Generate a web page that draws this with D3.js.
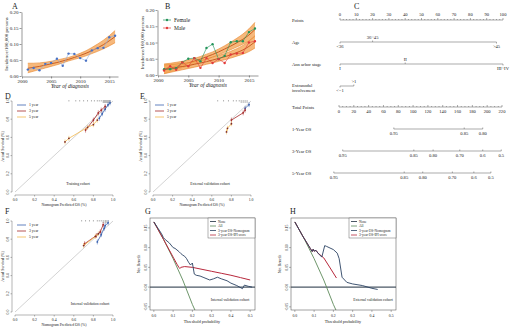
<!DOCTYPE html>
<html>
<head>
<meta charset="utf-8">
<script src="https://cdn.jsdelivr.net/npm/d3@7"></script>
<style>
  body { margin: 0; background: #fff; }
  text { font-family: "Liberation Serif", "Times New Roman", serif; fill: #222; }
</style>
</head>
<body>
<svg width="520" height="333"></svg>
<script>
// ---- data: incidence (A, B)
var years = [2001,2002,2003,2004,2005,2006,2007,2008,2009,2010,2011,2012,2013,2014,2015,2016];
var incTotal = [0.020,0.025,0.018,0.038,0.041,0.054,0.032,0.070,0.069,0.056,0.048,0.080,0.087,0.088,0.121,0.126];
var fitTotal = [0.024,0.027,0.030,0.034,0.038,0.042,0.047,0.052,0.058,0.064,0.071,0.079,0.088,0.098,0.110,0.123];
var loTotal  = [0.010,0.015,0.020,0.025,0.030,0.035,0.041,0.047,0.052,0.057,0.063,0.070,0.077,0.085,0.094,0.104];
var hiTotal  = [0.040,0.040,0.041,0.043,0.046,0.050,0.054,0.058,0.064,0.071,0.079,0.089,0.100,0.112,0.126,0.142];

var incFemale = [0.018,0.018,0.021,0.039,0.050,0.052,0.042,0.083,0.095,0.049,0.059,0.101,0.104,0.104,0.132,0.143];
var fitFemale = [0.019,0.023,0.027,0.032,0.037,0.043,0.049,0.056,0.063,0.071,0.080,0.089,0.099,0.110,0.123,0.140];
var loFemale  = [0.005,0.010,0.016,0.022,0.028,0.034,0.041,0.048,0.055,0.062,0.070,0.078,0.086,0.095,0.105,0.118];
var hiFemale  = [0.034,0.036,0.039,0.042,0.046,0.051,0.057,0.064,0.071,0.080,0.090,0.101,0.113,0.126,0.142,0.162];

var incMale = [0.014,0.027,0.016,0.039,0.027,0.052,0.022,0.052,0.037,0.049,0.037,0.063,0.066,0.068,0.100,0.104];
var fitMale = [0.017,0.020,0.023,0.026,0.029,0.033,0.037,0.041,0.046,0.051,0.056,0.062,0.069,0.077,0.088,0.102];
var loMale  = [0.004,0.008,0.012,0.016,0.020,0.024,0.028,0.033,0.037,0.042,0.047,0.052,0.058,0.064,0.072,0.083];
var hiMale  = [0.031,0.032,0.034,0.036,0.038,0.041,0.045,0.049,0.055,0.060,0.066,0.073,0.081,0.091,0.104,0.121];

// ---- data: nomogram (C)
var ageLevels = ["<36", "36~45", ">45"], agePts = [0, 20, 96];
var stageLevels = ["I", "II", "III~IV"], stagePts = [0, 40, 100];
var extraLevels = ["<=1", ">1"], extraPts = [0, 8.5];
var os1Labels = ["0.95", "0.85", "0.80"], os1Total = [74, 169, 194];
var os3Labels = ["0.95", "0.85", "0.80", "0.70", "0.6", "0.5"], os3Total = [5, 101, 127, 163, 194, 219];
var os5Labels = ["0.95", "0.85", "0.80", "0.70", "0.6", "0.5"], os5Total = [-7, 88, 113, 153, 182, 205];

// ---- data: calibration (D, E, F)
var dPred1 = [0.86,0.89,0.92,0.95,0.97], dObs1 = [0.81,0.86,0.91,0.96,0.98];
var dPred3 = [0.72,0.80,0.85,0.88,0.92], dObs3 = [0.68,0.79,0.87,0.90,0.94];
var dPred5 = [0.51,0.55,0.74,0.80,0.84], dObs5 = [0.55,0.59,0.71,0.74,0.79];
var dRug = [0.55,0.62,0.66,0.70,0.74,0.78,0.81,0.84,0.86,0.88,0.90,0.91,0.92,0.93,0.94,0.95,0.96,0.97];

var ePred1 = [0.94,0.98], eObs1 = [0.92,0.96];
var ePred3 = [0.80,0.92,0.94], eObs3 = [0.79,0.87,0.90];
var ePred5 = [0.75,0.76,0.80], eObs5 = [0.66,0.70,0.75];
var eRug = [0.66,0.72,0.77,0.82,0.85,0.88,0.90,0.92,0.94,0.96];

var fPred1 = [0.84,0.88,0.91,0.92,0.95], fObs1 = [0.77,0.85,0.92,0.95,0.98];
var fPred3 = [0.71,0.83,0.87,0.90], fObs3 = [0.75,0.84,0.88,0.96];
var fPred5 = [0.70,0.82,0.85], fObs5 = [0.73,0.83,0.86];
var fRug = [0.68,0.72,0.76,0.80,0.84,0.86,0.88,0.90,0.92,0.93,0.95];

// ---- data: decision curves (G, H)
var gAllX = [0,0.05,0.10,0.15,0.20,0.215], gAllY = [0.165,0.121,0.072,0.018,-0.044,-0.060];
var gIpiX = [0,0.05,0.10,0.12,0.13,0.135,0.14,0.16,0.20,0.25,0.30,0.35,0.40,0.45,0.50];
var gIpiY = [0.165,0.121,0.076,0.058,0.050,0.047,0.050,0.052,0.050,0.045,0.040,0.035,0.030,0.024,0.018];
var gNomX = [0,0.02,0.04,0.05,0.06,0.08,0.10,0.11,0.12,0.13,0.14,0.15,0.16,0.17,0.18,0.19,0.20,0.21,0.22,0.24,0.26,0.29,0.31,0.33,0.35,0.38,0.40,0.43,0.46,0.47,0.49,0.51];
var gNomY = [0.165,0.150,0.135,0.125,0.120,0.112,0.100,0.098,0.094,0.090,0.085,0.081,0.078,0.072,0.063,0.056,0.061,0.033,0.030,0.028,0.024,0.018,0.021,0.025,0.021,0.016,0.010,0.004,-0.004,0.005,0.002,0.000];

var hAllX = [0,0.05,0.10,0.15,0.20,0.215], hAllY = [0.165,0.121,0.072,0.018,-0.044,-0.060];
var hIpiX = [0,0.04,0.08,0.09,0.095,0.10,0.11,0.12,0.15,0.18,0.216];
var hIpiY = [0.165,0.130,0.098,0.090,0.096,0.091,0.093,0.086,0.074,0.051,0.023];
var hNomX = [0,0.04,0.08,0.09,0.095,0.10,0.11,0.12,0.14,0.155,0.165,0.20,0.22,0.23,0.245,0.27,0.30,0.35,0.40,0.43];
var hNomY = [0.165,0.130,0.098,0.090,0.096,0.091,0.093,0.086,0.076,0.105,0.103,0.095,0.086,0.072,0.025,0.012,0.008,0.004,-0.003,-0.006];

var svg = d3.select("svg");

function txt(x, y, s, size, anchor) {
    return svg.append("text").attr("x", x).attr("y", y).attr("font-size", size)
        .attr("text-anchor", anchor || "start").text(s);
}
function vtxt(x, y, s, size) {
    return svg.append("text").attr("transform", "translate(" + x + "," + y + ") rotate(-90)")
        .attr("font-size", size).attr("text-anchor", "middle").text(s);
}

// panel letters
txt(12, 9, "A", 8); txt(165, 9, "B", 8); txt(354, 9, "C", 8);
txt(5, 99, "D", 8); txt(140, 99, "E", 8);
txt(5, 214, "F", 8); txt(145, 214, "G", 8); txt(290, 214, "H", 8);

// ---------- A / B incidence panels
function incPanel(cfg) {
    var x = d3.scaleLinear().domain([2000, 2016.5]).range([cfg.left, cfg.right]);
    var y = d3.scaleLinear().domain([0, 0.2]).range([cfg.bottom, cfg.top]);
    var g = svg.append("g");

    cfg.fits.forEach(function(f) {
        var area = d3.area().x(function(d, i) { return x(years[i]); })
            .y0(function(d, i) { return y(f.lo[i]); })
            .y1(function(d) { return y(d); })
            .curve(d3.curveMonotoneX);
        g.append("path").datum(f.hi).attr("d", area).attr("fill", "#f4a65a").attr("fill-opacity", 0.8);
        [f.lo, f.hi].forEach(function(b) {
            g.append("path").datum(b)
                .attr("d", d3.line().x(function(d, i) { return x(years[i]); }).y(function(d) { return y(d); }).curve(d3.curveMonotoneX))
                .attr("fill", "none").attr("stroke", "#e8862e").attr("stroke-width", 0.6);
        });
        g.append("path").datum(f.fit)
            .attr("d", d3.line().x(function(d, i) { return x(years[i]); }).y(function(d) { return y(d); }).curve(d3.curveMonotoneX))
            .attr("fill", "none").attr("stroke", "#c45418").attr("stroke-width", 0.9);
    });

    cfg.series.forEach(function(s) {
        g.append("path").datum(s.values)
            .attr("d", d3.line().x(function(d, i) { return x(years[i]); }).y(function(d) { return y(d); }))
            .attr("fill", "none").attr("stroke", s.line).attr("stroke-width", 0.6);
        g.selectAll(null).data(s.values).enter().append("circle")
            .attr("cx", function(d, i) { return x(years[i]); })
            .attr("cy", function(d) { return y(d); })
            .attr("r", 1.2).attr("fill", s.color);
    });

    var ya = g.append("g").attr("transform", "translate(" + (cfg.left - 0.5) + ",0)")
        .call(d3.axisLeft(y).tickValues([0, 0.05, 0.1, 0.15, 0.2]).tickFormat(d3.format(".2f"))
            .tickSize(2).tickSizeOuter(0).tickPadding(1));
    var xa = g.append("g").attr("transform", "translate(0," + (cfg.bottom + 0.5) + ")")
        .call(d3.axisBottom(x).tickValues([2000, 2005, 2010, 2015]).tickFormat(d3.format("d"))
            .tickSize(2).tickSizeOuter(0).tickPadding(1));
    [ya, xa].forEach(function(a) {
        a.selectAll("path,line").attr("stroke", "#333").attr("stroke-width", 0.5);
        a.selectAll("text").attr("font-size", 5).attr("font-family", null).attr("fill", "#222");
    });
    vtxt(cfg.left - 14, (cfg.top + cfg.bottom) / 2, "Incidence/100,000 persons", 5);
    txt((cfg.left + cfg.right) / 2, cfg.bottom + 12, "Year of diagnosis", 5.5, "middle").attr("font-style", "italic");

    if (cfg.legend) {
        cfg.series.forEach(function(s, i) {
            var ly = cfg.legend.y + i * 8;
            g.append("line").attr("x1", cfg.legend.x).attr("x2", cfg.legend.x + 8)
                .attr("y1", ly).attr("y2", ly).attr("stroke", s.color).attr("stroke-width", 0.7);
            g.append("circle").attr("cx", cfg.legend.x + 4).attr("cy", ly).attr("r", 1.2).attr("fill", s.color);
            txt(cfg.legend.x + 11, ly + 1.8, s.name, 5.5);
        });
    }
}

incPanel({left: 22, right: 118, top: 12, bottom: 76,
    fits: [{fit: fitTotal, lo: loTotal, hi: hiTotal}],
    series: [{values: incTotal, color: "#4a72c4", line: "#8eaee0"}]});

incPanel({left: 158, right: 258, top: 10, bottom: 75,
    fits: [{fit: fitFemale, lo: loFemale, hi: hiFemale}, {fit: fitMale, lo: loMale, hi: hiMale}],
    series: [{name: "Female", values: incFemale, color: "#23945a", line: "#23945a"},
             {name: "Male", values: incMale, color: "#e23b3b", line: "#e23b3b"}],
    legend: {x: 163, y: 20}});

// ---------- C nomogram
var ptsX = d3.scaleLinear().domain([0, 100]).range([340, 503]);
var totX = d3.scaleLinear().domain([0, 220]).range([339, 502]);
var nomo = svg.append("g").attr("stroke", "#555").attr("stroke-width", 0.5);
var fsN = 4.6;

function rowLabel(y, s) { txt(292, y, s, fsN); }

// Points
rowLabel(22, "Points");
nomo.append("line").attr("x1", ptsX(0)).attr("x2", ptsX(100)).attr("y1", 20).attr("y2", 20);
nomo.selectAll(null).data(d3.range(0, 101, 2)).enter().append("line")
    .attr("x1", function(d) { return ptsX(d); }).attr("x2", function(d) { return ptsX(d); })
    .attr("y1", 20).attr("y2", function(d) { return d % 10 === 0 ? 18 : 19; });
d3.range(0, 101, 10).forEach(function(d) { txt(ptsX(d), 16, d, fsN, "middle"); });

function catRow(y, levels, pts) {
    nomo.append("line").attr("x1", ptsX(d3.min(pts))).attr("x2", ptsX(d3.max(pts))).attr("y1", y).attr("y2", y);
    levels.forEach(function(l, i) {
        var up = i % 2 === 1;
        nomo.append("line").attr("x1", ptsX(pts[i])).attr("x2", ptsX(pts[i]))
            .attr("y1", y).attr("y2", up ? y - 1.5 : y + 1.5);
        txt(ptsX(pts[i]), up ? y - 3 : y + 5.5, l, fsN, "middle");
    });
}
rowLabel(44, "Age");
catRow(42, ageLevels, agePts);
rowLabel(66, "Ann arbor stage");
catRow(64, stageLevels, stagePts);
rowLabel(87, "Extranodal");
rowLabel(92, "involvement");
catRow(86, extraLevels, extraPts);

// Total points
rowLabel(109, "Total Points");
nomo.append("line").attr("x1", totX(0)).attr("x2", totX(220)).attr("y1", 107).attr("y2", 107);
nomo.selectAll(null).data(d3.range(0, 221, 5)).enter().append("line")
    .attr("x1", function(d) { return totX(d); }).attr("x2", function(d) { return totX(d); })
    .attr("y1", 107).attr("y2", function(d) { return d % 20 === 0 ? 105 : 106; });
d3.range(0, 221, 20).forEach(function(d) { txt(totX(d), 113, d, fsN, "middle"); });

function osRow(y, name, labels, tot) {
    rowLabel(y + 2, name);
    nomo.append("line").attr("x1", totX(d3.min(tot))).attr("x2", totX(d3.max(tot))).attr("y1", y).attr("y2", y);
    labels.forEach(function(l, i) {
        nomo.append("line").attr("x1", totX(tot[i])).attr("x2", totX(tot[i])).attr("y1", y).attr("y2", y - 1.5);
        txt(totX(tot[i]), y + 5.5, l, fsN, "middle");
    });
}
osRow(129, "1-Year OS", os1Labels, os1Total);
osRow(151, "3-Year OS", os3Labels, os3Total);
osRow(173, "5-Year OS", os5Labels, os5Total);

// ---------- D / E / F calibration panels
var calColors = ["#3a62b0", "#a52a2a", "#f2b84b"];
var calNames = ["1 year", "3 year", "5 year"];

function calPanel(cfg) {
    var x = d3.scaleLinear().domain([0, 1]).range([cfg.x0, cfg.x0 + 98]);
    var y = d3.scaleLinear().domain([0, 1]).range([cfg.y0, cfg.y0 - 91]);
    var g = svg.append("g");
    var ticks = [0, 0.2, 0.4, 0.6, 0.8, 1.0];

    // diagonal
    g.append("line").attr("x1", x(0)).attr("y1", y(0)).attr("x2", x(1)).attr("y2", y(1))
        .attr("stroke", "#c8c8c8").attr("stroke-width", 0.8);

    // axes
    var ax = cfg.x0 - 3, ay = cfg.y0 + 3;
    g.append("line").attr("x1", ax).attr("x2", ax).attr("y1", y(0)).attr("y2", y(1)).attr("stroke", "#444").attr("stroke-width", 0.4);
    g.append("line").attr("x1", x(0)).attr("x2", x(1)).attr("y1", ay).attr("y2", ay).attr("stroke", "#444").attr("stroke-width", 0.4);
    ticks.forEach(function(t) {
        g.append("line").attr("x1", ax).attr("x2", ax - 1.5).attr("y1", y(t)).attr("y2", y(t)).attr("stroke", "#444").attr("stroke-width", 0.4);
        g.append("line").attr("x1", x(t)).attr("x2", x(t)).attr("y1", ay).attr("y2", ay + 1.5).attr("stroke", "#444").attr("stroke-width", 0.4);
        vtxt(ax - 3, y(t), t.toFixed(1), 3.8);
        txt(x(t), ay + 5.5, t.toFixed(1), 3.8, "middle");
    });
    vtxt(ax - 8, y(0.5), "Actual Survival (%)", 3.8);
    txt(x(0.5), ay + 11, "Nomogram Predicted OS (%)", 3.8, "middle");

    // rug of predicted values
    g.selectAll(null).data(cfg.rug).enter().append("line")
        .attr("x1", function(d) { return x(d); }).attr("x2", function(d) { return x(d); })
        .attr("y1", y(1) - 1).attr("y2", function(d, i) { return y(1) + (d > 0.88 ? 2 : 0.5); })
        .attr("stroke", "#666").attr("stroke-width", 0.5);

    // curves
    cfg.series.forEach(function(s, k) {
        var pts = s.pred.map(function(p, i) { return [p, s.obs[i]]; });
        g.append("path").datum(pts)
            .attr("d", d3.line().x(function(d) { return x(d[0]); }).y(function(d) { return y(d[1]); }))
            .attr("fill", "none").attr("stroke", calColors[k]).attr("stroke-width", 0.8);
        g.selectAll(null).data(pts).enter().append("line")
            .attr("x1", function(d) { return x(d[0]); }).attr("x2", function(d) { return x(d[0]); })
            .attr("y1", function(d) { return y(d[1]) - 2.5; }).attr("y2", function(d) { return y(d[1]) + 2.5; })
            .attr("stroke", calColors[k]).attr("stroke-width", 0.5);
        g.selectAll(null).data(pts).enter().append("circle")
            .attr("cx", function(d) { return x(d[0]); }).attr("cy", function(d) { return y(d[1]); })
            .attr("r", 0.9).attr("fill", k === 2 ? "#7a2a2a" : calColors[k]);
    });

    // legend
    calNames.forEach(function(n, i) {
        var ly = cfg.y0 - 87 + i * 6;
        g.append("line").attr("x1", cfg.x0 + 2).attr("x2", cfg.x0 + 11).attr("y1", ly).attr("y2", ly)
            .attr("stroke", calColors[i]).attr("stroke-width", 0.8);
        txt(cfg.x0 + 14, ly + 1.3, n, 3.8);
    });
    txt(cfg.textX, cfg.y0 - 7, cfg.cohort, 3.8, "middle");
}

calPanel({x0: 15, y0: 192, rug: dRug, cohort: "Training cohort", textX: 78,
    series: [{pred: dPred1, obs: dObs1}, {pred: dPred3, obs: dObs3}, {pred: dPred5, obs: dObs5}]});
calPanel({x0: 153, y0: 192, rug: eRug, cohort: "External validation cohort", textX: 210,
    series: [{pred: ePred1, obs: eObs1}, {pred: ePred3, obs: eObs3}, {pred: ePred5, obs: eObs5}]});
calPanel({x0: 15, y0: 312, rug: fRug, cohort: "Internal validation cohort", textX: 90,
    series: [{pred: fPred1, obs: fObs1}, {pred: fPred3, obs: fObs3}, {pred: fPred5, obs: fObs5}]});

// ---------- G / H decision curves
var dcaNames = ["None", "All", "3-year OS-Nomogram", "3-year OS-IPI score"];
var dcaColors = ["#1e2e3e", "#5e8a5a", "#2a4262", "#b8283c"];

function dcaPanel(cfg) {
    var x = d3.scaleLinear().domain([-0.02, 0.525]).range([cfg.left, cfg.left + 105]);
    var y = d3.scaleLinear().domain([-0.058, 0.175]).range([310, 218]);
    var id = "clip" + cfg.left;
    svg.append("clipPath").attr("id", id).append("rect")
        .attr("x", cfg.left).attr("y", 218).attr("width", 105).attr("height", 92);
    var g = svg.append("g");
    var inner = g.append("g").attr("clip-path", "url(#" + id + ")");

    var line = d3.line().x(function(d) { return x(d[0]); }).y(function(d) { return y(d[1]); });
    var zip = function(xs, ys) { return xs.map(function(v, i) { return [v, ys[i]]; }); };

    inner.append("line").attr("x1", cfg.left).attr("x2", cfg.left + 105).attr("y1", y(0)).attr("y2", y(0))
        .attr("stroke", dcaColors[0]).attr("stroke-width", 1);
    inner.append("path").datum(zip(cfg.allX, cfg.allY)).attr("d", line)
        .attr("fill", "none").attr("stroke", dcaColors[1]).attr("stroke-width", 0.9);
    inner.append("path").datum(zip(cfg.ipiX, cfg.ipiY)).attr("d", line)
        .attr("fill", "none").attr("stroke", dcaColors[3]).attr("stroke-width", 1);
    inner.append("path").datum(zip(cfg.nomX, cfg.nomY)).attr("d", line)
        .attr("fill", "none").attr("stroke", dcaColors[2]).attr("stroke-width", 0.9);

    g.append("rect").attr("x", cfg.left).attr("y", 218).attr("width", 105).attr("height", 92)
        .attr("fill", "none").attr("stroke", "#444").attr("stroke-width", 0.5);

    [0, 0.1, 0.2, 0.3, 0.4, 0.5].forEach(function(t) {
        g.append("line").attr("x1", x(t)).attr("x2", x(t)).attr("y1", 310).attr("y2", 312)
            .attr("stroke", "#444").attr("stroke-width", 0.4);
        txt(x(t), 316.5, t.toFixed(1), 3.8, "middle");
    });
    [-0.05, 0, 0.05, 0.1, 0.15].forEach(function(t) {
        g.append("line").attr("x1", cfg.left).attr("x2", cfg.left - 2).attr("y1", y(t)).attr("y2", y(t))
            .attr("stroke", "#444").attr("stroke-width", 0.4);
        vtxt(cfg.left - 3.5, y(t), t.toFixed(2), 3.8);
    });
    vtxt(cfg.left - 10, 264, "Net Benefit", 4);
    txt(cfg.left + 52, 323, "Threshold probability", 4.2, "middle");

    // legend
    var lx = cfg.left + 105 - 47;
    g.append("rect").attr("x", lx).attr("y", 218).attr("width", 47).attr("height", 20)
        .attr("fill", "#fff").attr("stroke", "#444").attr("stroke-width", 0.4);
    dcaNames.forEach(function(n, i) {
        var ly = 221.5 + i * 4.5;
        g.append("line").attr("x1", lx + 2).attr("x2", lx + 8).attr("y1", ly).attr("y2", ly)
            .attr("stroke", dcaColors[i]).attr("stroke-width", 0.8);
        txt(lx + 10, ly + 1.2, n, 3.5);
    });
    txt(cfg.textX, 301, cfg.cohort, 3.8, "middle");
}

dcaPanel({left: 150, allX: gAllX, allY: gAllY, ipiX: gIpiX, ipiY: gIpiY, nomX: gNomX, nomY: gNomY,
    cohort: "Internal validation cohort", textX: 230});
dcaPanel({left: 291, allX: hAllX, allY: hAllY, ipiX: hIpiX, ipiY: hIpiY, nomX: hNomX, nomY: hNomY,
    cohort: "External validation cohort", textX: 373});
</script>
</body>
</html>
